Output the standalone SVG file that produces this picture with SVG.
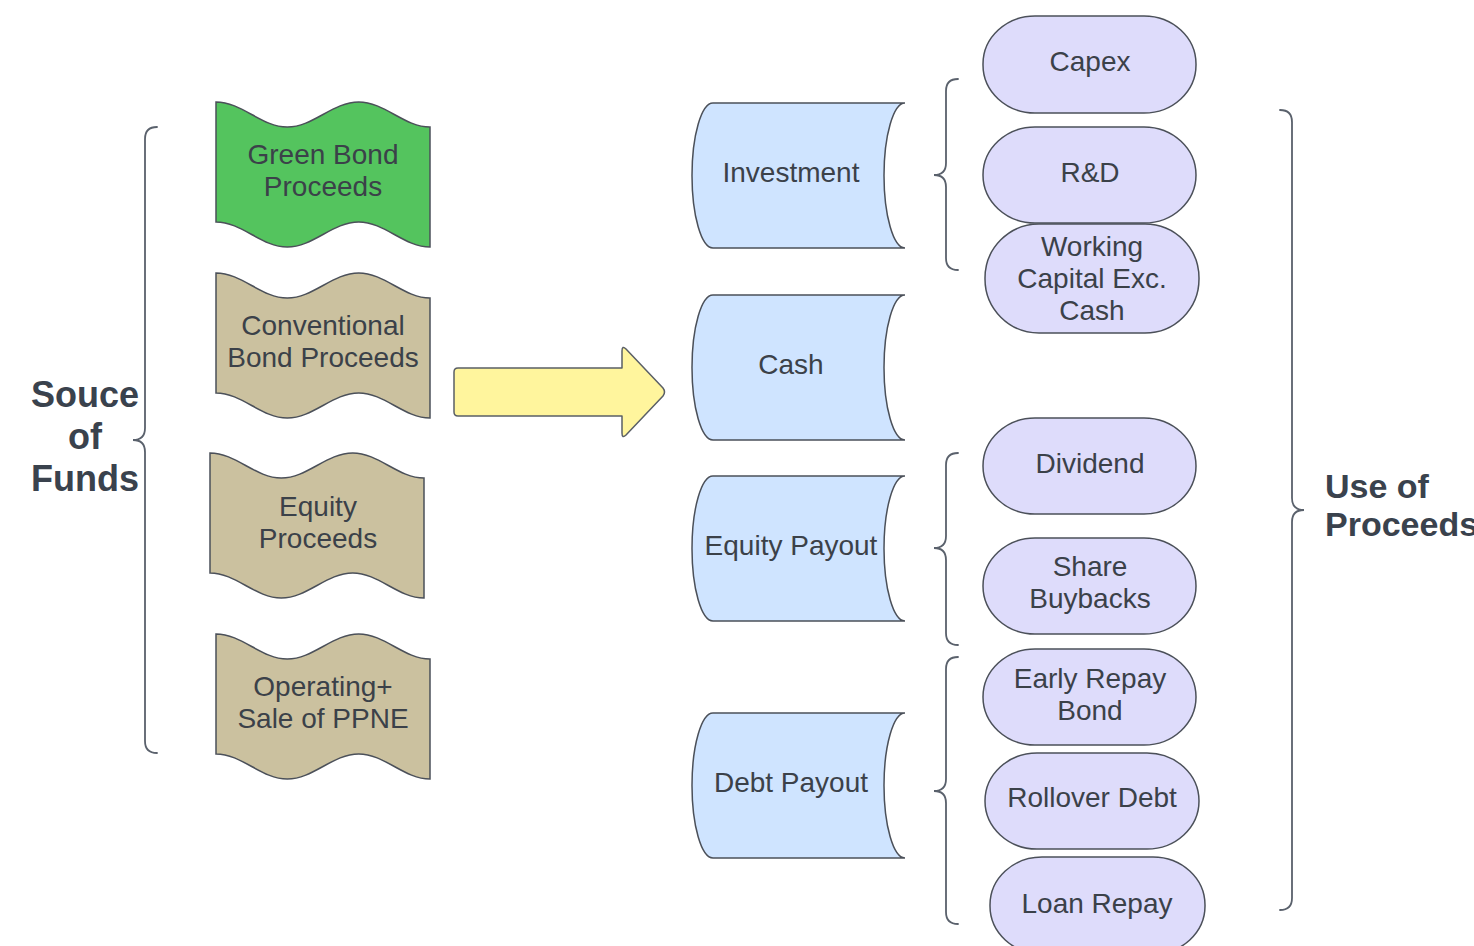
<svg xmlns="http://www.w3.org/2000/svg" width="1474" height="946" viewBox="0 0 1474 946">
<style>
.t{font-family:"Liberation Sans",Arial,sans-serif;font-size:28px;fill:#3b4149;text-anchor:middle}
.b{font-family:"Liberation Sans",Arial,sans-serif;font-weight:bold;fill:#3a424d}
.sh{stroke:#4b5059;stroke-width:1.5}
.green{fill:#54c45e}
.tan{fill:#cbc19f}
.blue{fill:#cfe4ff}
.pill{fill:#dedcfb;stroke:#4b5059;stroke-width:1.5}
.brace{fill:none;stroke:#5a616c;stroke-width:1.8;stroke-linecap:round}
</style>
<defs>
<path id="tape" d="M0,0 C26,0 45.3,25 71.3,25 C97.3,25 116.7,0 142.7,0 C168.7,0 188,25 214,25 L214,145 C188,145 168.7,120 142.7,120 C116.7,120 97.3,145 71.3,145 C45.3,145 26,120 0,120 Z"/>
<path id="store" d="M21,0 L213,0 A21,72.5 0 0 0 213,145 L21,145 A21,72.5 0 0 1 21,0 Z"/>
</defs>
<rect width="1474" height="946" fill="#ffffff"/>

<g id="connectors">
<path class="brace" d="M157,127 Q145,127 145,139 L145,428 Q145,440 133,440 Q145,440 145,452 L145,741 Q145,753 157,753"/>
<path class="brace" d="M958,79 Q946,79 946,91 L946,163 Q946,175 934,175 Q946,175 946,187 L946,258 Q946,270 958,270"/>
<path class="brace" d="M958,453 Q946,453 946,465 L946,536 Q946,548 934,548 Q946,548 946,560 L946,633 Q946,645 958,645"/>
<path class="brace" d="M958,657 Q946,657 946,669 L946,779 Q946,791 934,791 Q946,791 946,803 L946,912 Q946,924 958,924"/>
<path class="brace" d="M1280,110 Q1292,110 1292,122 L1292,498 Q1292,510 1304,510 Q1292,510 1292,522 L1292,898 Q1292,910 1280,910"/>
<path id="bigArrow" d="M458,368 L622,368 L622,351 Q622,345 626,349 L663,388 Q666,392 663,396 L626,435 Q622,439 622,433 L622,416 L458,416 Q454,416 454,412 L454,372 Q454,368 458,368 Z" fill="#fff59d" stroke="#5a5f66" stroke-width="1.5" stroke-linejoin="round"/>
</g>

<g id="souce-label"><text class="b" font-size="36" text-anchor="middle"><tspan x="85" y="407">Souce</tspan><tspan x="85" y="449">of</tspan><tspan x="85" y="491">Funds</tspan></text></g>
<g id="use-label"><text class="b" font-size="34"><tspan x="1325" y="498">Use of</tspan><tspan x="1325" y="536">Proceeds</tspan></text></g>

<g id="green-bond"><use href="#tape" class="green sh" transform="translate(216,102)"/><text class="t"><tspan x="323" y="164">Green Bond</tspan><tspan x="323" y="196">Proceeds</tspan></text></g>
<g id="conventional-bond"><use href="#tape" class="tan sh" transform="translate(216,273)"/><text class="t"><tspan x="323" y="335">Conventional</tspan><tspan x="323" y="367">Bond Proceeds</tspan></text></g>
<g id="equity-proceeds"><use href="#tape" class="tan sh" transform="translate(210,453)"/><text class="t"><tspan x="318" y="516">Equity</tspan><tspan x="318" y="548">Proceeds</tspan></text></g>
<g id="operating"><use href="#tape" class="tan sh" transform="translate(216,634)"/><text class="t"><tspan x="323" y="696">Operating+</tspan><tspan x="323" y="728">Sale of PPNE</tspan></text></g>

<g id="investment"><use href="#store" class="blue sh" transform="translate(692,103)"/><text class="t" x="791" y="182">Investment</text></g>
<g id="cash"><use href="#store" class="blue sh" transform="translate(692,295)"/><text class="t" x="791" y="374">Cash</text></g>
<g id="equity-payout"><use href="#store" class="blue sh" transform="translate(692,476)"/><text class="t" x="791" y="555">Equity Payout</text></g>
<g id="debt-payout"><use href="#store" class="blue sh" transform="translate(692,713)"/><text class="t" x="791" y="792">Debt Payout</text></g>

<g id="capex"><rect class="pill" x="983" y="16" width="213" height="97" rx="52" ry="48"/><text class="t" x="1090" y="71">Capex</text></g>
<g id="rnd"><rect class="pill" x="983" y="127" width="213" height="96" rx="52" ry="48"/><text class="t" x="1090" y="182">R&amp;D</text></g>
<g id="working-capital"><rect class="pill" x="985" y="224" width="214" height="109" rx="54" ry="54"/><text class="t"><tspan x="1092" y="256">Working</tspan><tspan x="1092" y="288">Capital Exc.</tspan><tspan x="1092" y="320">Cash</tspan></text></g>
<g id="dividend"><rect class="pill" x="983" y="418" width="213" height="96" rx="52" ry="48"/><text class="t" x="1090" y="473">Dividend</text></g>
<g id="share-buybacks"><rect class="pill" x="983" y="538" width="213" height="96" rx="52" ry="48"/><text class="t"><tspan x="1090" y="576">Share</tspan><tspan x="1090" y="608">Buybacks</tspan></text></g>
<g id="early-repay"><rect class="pill" x="983" y="649" width="213" height="96" rx="52" ry="48"/><text class="t"><tspan x="1090" y="688">Early Repay</tspan><tspan x="1090" y="720">Bond</tspan></text></g>
<g id="rollover"><rect class="pill" x="985" y="753" width="214" height="96" rx="52" ry="48"/><text class="t" x="1092" y="807">Rollover Debt</text></g>
<g id="loan-repay"><rect class="pill" x="990" y="857" width="215" height="97" rx="52" ry="48"/><text class="t" x="1097" y="913">Loan Repay</text></g>
</svg>
